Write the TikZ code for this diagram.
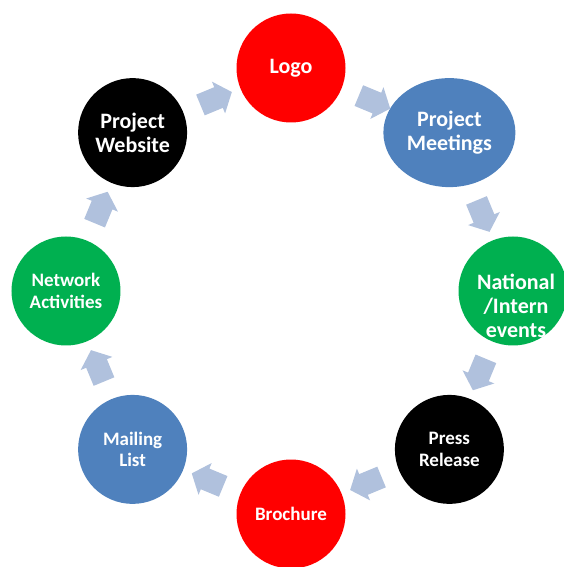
\documentclass[tikz,border=0pt]{standalone}
\usepackage{fontspec}
\setmainfont{Carlito}
\usepackage{tikz}
\usetikzlibrary{calc}
\usetikzlibrary{shapes.geometric}
\usetikzlibrary{shapes.arrows}
\definecolor{offred}{HTML}{FF0000}
\definecolor{offblue}{HTML}{4F81BD}
\definecolor{offgreen}{HTML}{00B050}
\definecolor{offarrow}{HTML}{B0C1DD}

\begin{document}
\begin{tikzpicture}[
		x=1pt, y=1pt,
		bubble/.style={circle, minimum size=109pt, inner sep=0pt, text=white, align=center},
		bigtext/.style={font=\fontsize{22}{24}\selectfont\bfseries},
		smalltext/.style={font=\fontsize{19}{21.5}\selectfont\bfseries},
		flowarrow/.style={single arrow, fill=offarrow, minimum height=34pt,
			single arrow head extend=6pt, single arrow tip angle=100,
			inner xsep=6pt, inner ysep=11pt, outer sep=0pt}
	]
	\useasboundingbox (-291,-276) rectangle (272,291);
	
	\node[bubble, bigtext, fill=offred, yshift=-1pt] (c0) at (90:224) {Logo};
	\node[bubble, bigtext, fill=offblue, ellipse, minimum width=132pt]
		(c1) at (45:224) {Project\\Meetings};
	\node[bubble, fill=offgreen,
		label={[bigtext, text=white, align=center, xshift=3pt, yshift=-15pt]center:National\\/Intern\\events}]
		(c2) at (0:222) {};
	\node[bubble, smalltext, fill=black] (c3) at (-45:224) {Press\\Release};
	\node[bubble, smalltext, fill=offred] (c4) at (-90:223) {Brochure};
	\node[bubble, smalltext, fill=offblue] (c5) at (-135:224) {Mailing\\List};
	\node[bubble, smalltext, fill=offgreen] (c6) at (180:225) {Network\\Activities};
	\node[bubble, bigtext, fill=black] (c7) at (135:224) {Project\\Website};
	
	\foreach \i in {0,1,...,7}{
		\pgfmathtruncatemacro{\j}{mod(\i+1,8)}
		\def\dir{-22.5-45*\i}
		
		\node[flowarrow, rotate=\dir]
			(arr\i) at ($(c\i)!0.5!(c\j)$) {};
	}
\end{tikzpicture}
\end{document}
